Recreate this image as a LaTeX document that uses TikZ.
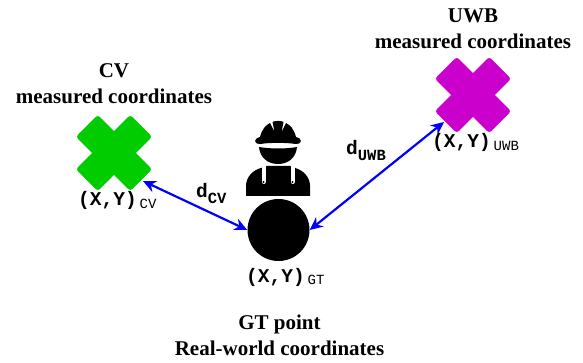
\documentclass[tikz,border=0pt]{standalone}
\usepackage{fontspec}
\setmainfont{Liberation Serif}
\setmonofont{Liberation Mono}
\usepackage{xcolor}
\usetikzlibrary{positioning, arrows.meta}
\definecolor{cvgreen}{RGB}{0,204,0}
\definecolor{uwbpurple}{RGB}{204,0,204}
\newcommand{\coordlbl}[2]{{\ttfamily\bfseries\fontsize{19.5}{19.5}\selectfont #1}\hspace{3pt}\raisebox{-2.5pt}{\ttfamily\fontsize{14}{14}\selectfont #2}}
\newcommand{\distlbl}[1]{{\ttfamily\bfseries\fontsize{19.5}{19.5}\selectfont d}\raisebox{-5.5pt}{\ttfamily\bfseries\fontsize{15.5}{15.5}\selectfont #1}}
\begin{document}
\begin{tikzpicture}[x=1pt, y=-1pt,
  arm/.style={rounded corners=3pt, inner sep=0pt, minimum width=77pt, minimum height=31pt},
  titel/.style={align=center, font=\bfseries\fontsize{21}{26}\selectfont, inner sep=0pt},
  et/.style={inner sep=0pt, anchor=base west},
  strap/.style={white, line width=4pt, line cap=round},
  fl/.style={{Stealth[length=13pt,width=12pt]}-{Stealth[length=13pt,width=12pt]}, blue, line width=2.2pt}]
\useasboundingbox (0,0) rectangle (583,363);
% crosses
\node[arm, fill=cvgreen, rotate=45] (cv) at (114,153) {};
\node[arm, fill=cvgreen, rotate=-45] (cvb) at (cv) {};
\node[arm, fill=uwbpurple, rotate=45] (uwb) at (473,95) {};
\node[arm, fill=uwbpurple, rotate=-45] (uwbb) at (uwb) {};
\coordinate (cvend) at (143,181);
\coordinate (uwbend) at (444,122);
\node[circle, fill=black, inner sep=0pt, minimum size=62pt] (gt) at (278.5,230) {};
% worker
\fill (255,141) .. controls (255,138) and (258,138) .. (260,137)
  .. controls (262,129) and (266,125) .. (270,123) -- (274.5,132) -- (272.5,122)
  .. controls (275,120.5) and (281,120.5) .. (283.5,122) -- (281.5,132) -- (286,123)
  .. controls (290,125) and (294,129) .. (296,137)
  .. controls (298,138) and (301,138) .. (301,141)
  .. controls (301,143.5) and (298,144) .. (296,144)
  .. controls (286,142.5) and (270,142.5) .. (260,144)
  .. controls (258,144) and (255,143.5) .. (255,141) -- cycle;
\fill (259,147) .. controls (270,149) and (286,149) .. (297,147)
  .. controls (296,158) and (288,164) .. (278,164)
  .. controls (268,164) and (260,158) .. (259,147) -- cycle;
\fill (246,196) -- (246,186) .. controls (246,177) and (253,170) .. (261,168)
  -- (266,166) -- (290,166) -- (295,168)
  .. controls (303,170) and (310,177) .. (310,186) -- (310,196) -- cycle;
\draw[strap] (263.5,164) -- (263.5,182);
\draw[strap] (292.5,164) -- (292.5,182);
\fill (263.5,182) circle[radius=1.2pt] (292.5,182) circle[radius=1.2pt];
% arrows
\draw[fl] (gt.west) -- (cvend);
\draw[fl] (gt.east) -- (uwbend);
% labels
\node[titel] (cvt) at (114,84) {CV\\measured coordinates};
\node[titel] (uwbt) at (473,29) {UWB\\measured coordinates};
\node[titel] (gtt) at (279.5,335) {GT point\\Real-world coordinates};
\node[et] (cvl) at (78,206) {\coordlbl{(X,Y)}{CV}};
\node[et] (uwbl) at (432,148) {\coordlbl{(X,Y)}{UWB}};
\node[et] (gtc) at (246,282) {\coordlbl{(X,Y)}{GT}};
\node[et] (dcv) at (196,198) {\distlbl{CV}};
\node[et] (duwb) at (346,155) {\distlbl{UWB}};
\end{tikzpicture}
\end{document}
